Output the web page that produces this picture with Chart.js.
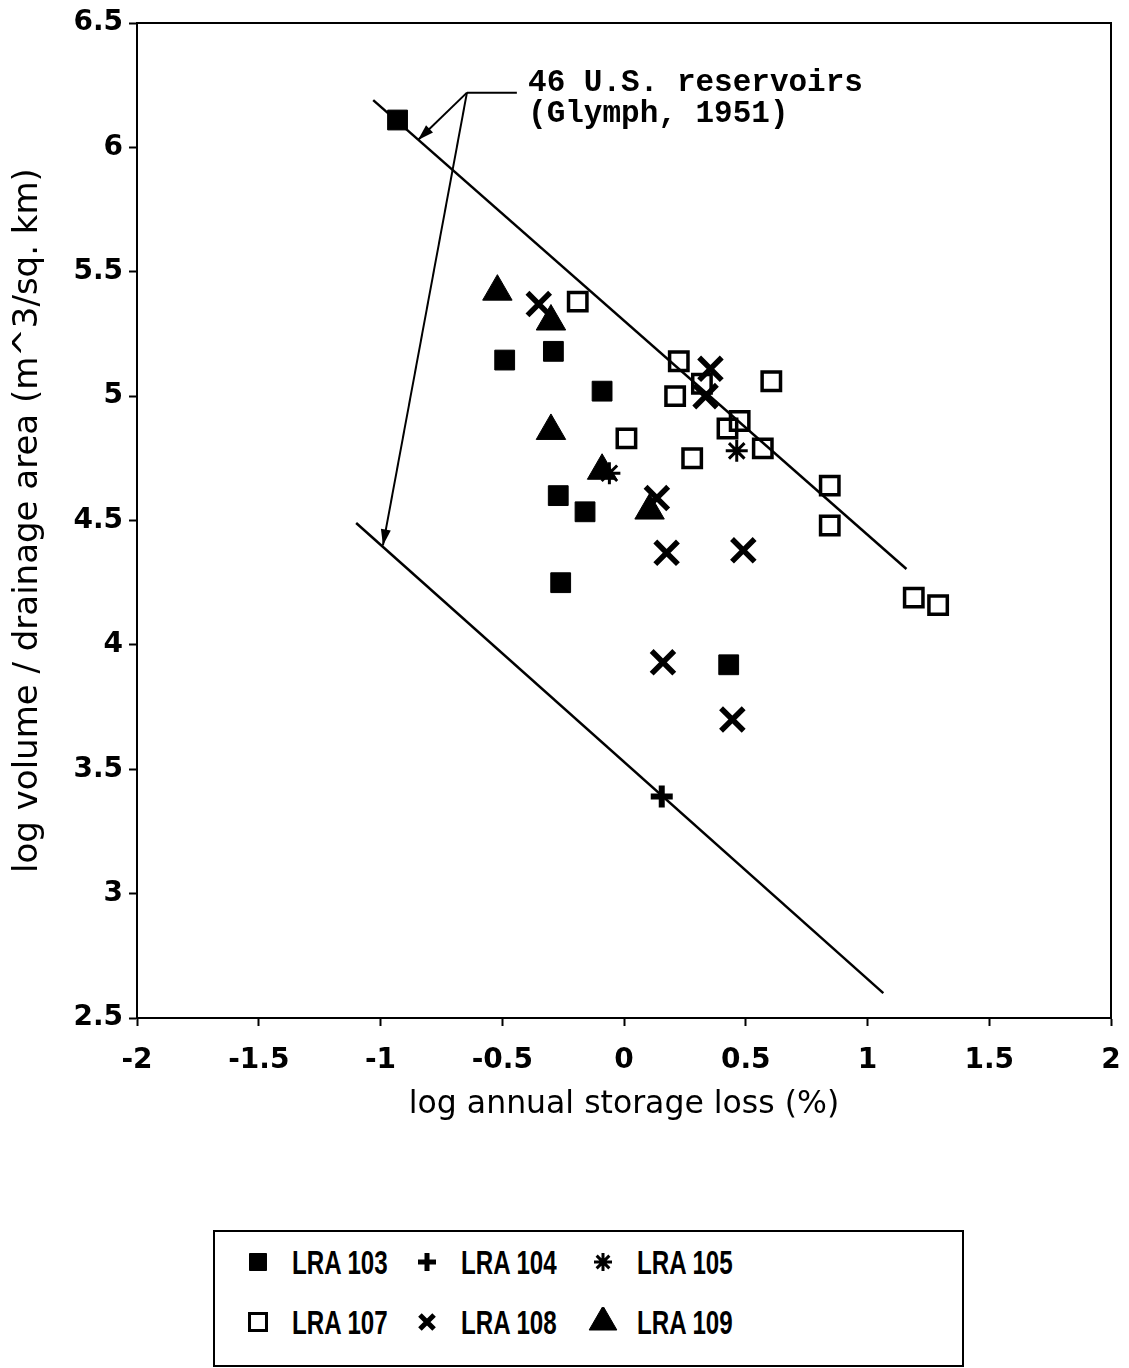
<!DOCTYPE html>
<html>
<head>
<meta charset="utf-8">
<script src="https://cdn.jsdelivr.net/npm/chart.js@4/dist/chart.umd.min.js"></script>
<style>
  body { margin: 0; background: #fff; }
  #wrap { position: relative; width: 1129px; height: 1368px; }
  #chart { position: absolute; left: 0; top: 0; }
  #legend {
    position: absolute; left: 213px; top: 1230px; width: 747px; height: 133px;
    border: 2px solid #000; background: #fff;
  }
  .item { position: absolute; height: 40px; }
  .item canvas { position: absolute; left: 0; top: 5px; }
  .item span {
    position: absolute; left: 49px; top: 0; line-height: 40px;
    font-family: "Liberation Sans", Arial, sans-serif; font-size: 34px; font-weight: bold;
    transform: scaleX(0.71); transform-origin: left center; white-space: nowrap; color: #000;
  }
</style>
</head>
<body>
<div id="wrap">
  <canvas id="chart" width="1129" height="1130"></canvas>
  <div id="legend"></div>
</div>
<script>
// data
const xTicks = [-2, -1.5, -1, -0.5, 0, 0.5, 1, 1.5, 2];
const yTicks = [2.5, 3, 3.5, 4, 4.5, 5, 5.5, 6, 6.5];

const lra103X = [-0.93, -0.49, -0.29, -0.09, -0.27, -0.16, -0.26, 0.43];
const lra103Y = [6.11, 5.145, 5.18, 5.02, 4.60, 4.535, 4.25, 3.92];

const lra104X = [0.155];
const lra104Y = [3.39];

const lra105X = [0.463, -0.06];
const lra105Y = [4.78, 4.69];

const lra107X = [-0.19, 0.225, 0.32, 0.21, 0.605, 0.475, 0.425, 0.57, 0.01, 0.28, 0.845, 0.845, 1.19, 1.29];
const lra107Y = [5.38, 5.14, 5.05, 5.00, 5.06, 4.90, 4.87, 4.79, 4.83, 4.75, 4.64, 4.48, 4.19, 4.16];

const lra108X = [-0.35, 0.355, 0.335, 0.135, 0.175, 0.49, 0.16, 0.445];
const lra108Y = [5.37, 5.11, 5.00, 4.59, 4.37, 4.38, 3.93, 3.70];

const lra109X = [-0.52, -0.30, -0.30, -0.09, 0.105];
const lra109Y = [5.42, 5.30, 4.86, 4.70, 4.54];

// the two Glymph (1951) envelope lines
const upperLineX = [-1.03, 1.16];
const upperLineY = [6.19, 4.305];
const lowerLineX = [-1.10, 1.065];
const lowerLineY = [4.49, 2.60];

// annotation: text, leader and arrows (data units)
const noteLines = ['46 U.S. reservoirs', '(Glymph, 1951)'];
const noteX = -0.394;
const noteY = [6.227, 6.102];
const leaderX = [-0.44, -0.645];
const leaderY = [6.22, 6.22];
const arrowTipX = [-0.846, -0.99];
const arrowTipY = [6.03, 4.40];

const toPoints = (xs, ys) => xs.map((x, i) => ({ x: x, y: ys[i] }));

const series = [
  { label: 'LRA 103', x: lra103X, y: lra103Y, pointStyle: 'rect', radius: 14, fill: '#000', bw: 1 },
  { label: 'LRA 104', x: lra104X, y: lra104Y, pointStyle: 'cross', radius: 11, fill: '#000', bw: 6 },
  { label: 'LRA 105', x: lra105X, y: lra105Y, pointStyle: 'star', radius: 11, fill: '#000', bw: 3 },
  { label: 'LRA 107', x: lra107X, y: lra107Y, pointStyle: 'rect', radius: 13, fill: 'rgba(0,0,0,0)', bw: 3.5 },
  { label: 'LRA 108', x: lra108X, y: lra108Y, pointStyle: 'crossRot', radius: 16, fill: '#000', bw: 5.5 },
  { label: 'LRA 109', x: lra109X, y: lra109Y, pointStyle: 'triangle', radius: 17, fill: '#000', bw: 1 }
];

const datasets = series.map(s => ({
  label: s.label,
  data: toPoints(s.x, s.y),
  pointStyle: s.pointStyle,
  pointRadius: s.radius,
  pointBackgroundColor: s.fill,
  pointBorderColor: '#000',
  pointBorderWidth: s.bw,
  showLine: false
}));

[[upperLineX, upperLineY], [lowerLineX, lowerLineY]].forEach(l => {
  datasets.push({
    label: '',
    data: toPoints(l[0], l[1]),
    showLine: true,
    borderColor: '#000',
    borderWidth: 2.5,
    pointRadius: 0,
    fill: false
  });
});

// frame, arrows and the note text
const extras = {
  id: 'extras',
  afterDatasetsDraw(chart) {
    const { ctx, chartArea: a, scales: { x, y } } = chart;
    ctx.save();
    ctx.strokeStyle = '#000';
    ctx.lineWidth = 2;
    ctx.strokeRect(a.left, a.top, a.right - a.left, a.bottom - a.top);

    const cx = x.getPixelForValue(leaderX[1]), cy = y.getPixelForValue(leaderY[1]);
    ctx.beginPath();
    ctx.moveTo(x.getPixelForValue(leaderX[0]), y.getPixelForValue(leaderY[0]));
    ctx.lineTo(cx, cy);
    ctx.stroke();

    arrowTipX.forEach((tx, i) => {
      const px = x.getPixelForValue(tx), py = y.getPixelForValue(arrowTipY[i]);
      const ang = Math.atan2(py - cy, px - cx);
      ctx.beginPath();
      ctx.moveTo(cx, cy);
      ctx.lineTo(px, py);
      ctx.stroke();
      const len = 16, half = 5;
      ctx.beginPath();
      ctx.moveTo(px, py);
      ctx.lineTo(px - len * Math.cos(ang) + half * Math.sin(ang), py - len * Math.sin(ang) - half * Math.cos(ang));
      ctx.lineTo(px - len * Math.cos(ang) - half * Math.sin(ang), py - len * Math.sin(ang) + half * Math.cos(ang));
      ctx.closePath();
      ctx.fillStyle = '#000';
      ctx.fill();
    });

    ctx.fillStyle = '#000';
    ctx.font = 'bold 31px "Liberation Mono", "Courier New", monospace';
    ctx.textAlign = 'left';
    ctx.textBaseline = 'alphabetic';
    noteLines.forEach((t, i) => {
      ctx.fillText(t, x.getPixelForValue(noteX), y.getPixelForValue(noteY[i]));
    });
    ctx.restore();
  }
};

const tickFont = { family: '"DejaVu Sans", sans-serif', size: 28, weight: 'bold' };

new Chart(document.getElementById('chart'), {
  type: 'scatter',
  data: { datasets: datasets },
  options: {
    responsive: false,
    animation: false,
    layout: { autoPadding: false, padding: { left: 0, top: 23, right: 18, bottom: 0 } },
    plugins: { legend: { display: false }, tooltip: { enabled: false } },
    scales: {
      x: {
        type: 'linear', min: -2, max: 2,
        afterBuildTicks: s => { s.ticks = xTicks.map(v => ({ value: v })); },
        afterFit: s => { s.height = 112; s.paddingLeft = 0; s.paddingRight = 0; },
        ticks: { color: '#000', font: tickFont, padding: 18, maxRotation: 0, callback: v => String(v) },
        grid: { drawOnChartArea: false, drawTicks: true, tickLength: 8, tickWidth: 2, tickColor: '#000' },
        border: { display: true, color: '#000', width: 2 },
        title: { display: true, text: 'log annual storage loss (%)', color: '#000',
          font: { family: '"DejaVu Sans", sans-serif', size: 31.5 }, padding: { top: 0, bottom: 6 } }
      },
      y: {
        type: 'linear', min: 2.5, max: 6.5,
        afterBuildTicks: s => { s.ticks = yTicks.map(v => ({ value: v })); },
        afterFit: s => { s.width = 137; s.paddingTop = 0; s.paddingBottom = 0; },
        ticks: { color: '#000', font: tickFont, padding: 6, callback: v => String(v) },
        grid: { drawOnChartArea: false, drawTicks: true, tickLength: 8, tickWidth: 2, tickColor: '#000' },
        border: { display: true, color: '#000', width: 2 },
        title: { display: true, text: 'log volume / drainage area (m^3/sq. km)', color: '#000',
          font: { family: '"DejaVu Sans", sans-serif', size: 34 }, padding: { top: 8, bottom: 0 } }
      }
    }
  },
  plugins: [extras]
});

// legend box below the chart, three items per row
const legend = document.getElementById('legend');
const legendLeft = [28, 197, 373];
const legendTop = [10, 70];
const legendRadius = { rect: 12, cross: 9, star: 9, crossRot: 10, triangle: 16 };
series.forEach((s, i) => {
  const item = document.createElement('div');
  item.className = 'item';
  item.style.left = legendLeft[i % 3] + 'px';
  item.style.top = legendTop[Math.floor(i / 3)] + 'px';
  const c = document.createElement('canvas');
  c.width = 30; c.height = 30;
  const cctx = c.getContext('2d');
  cctx.fillStyle = s.fill;
  cctx.strokeStyle = '#000';
  cctx.lineWidth = s.label === 'LRA 107' ? 3 : Math.min(s.bw, 5);
  Chart.helpers.drawPoint(cctx, { pointStyle: s.pointStyle, radius: legendRadius[s.pointStyle], rotation: 0, borderWidth: cctx.lineWidth }, 15, 15);
  item.appendChild(c);
  const span = document.createElement('span');
  span.textContent = s.label;
  item.appendChild(span);
  legend.appendChild(item);
});
</script>
</body>
</html>
